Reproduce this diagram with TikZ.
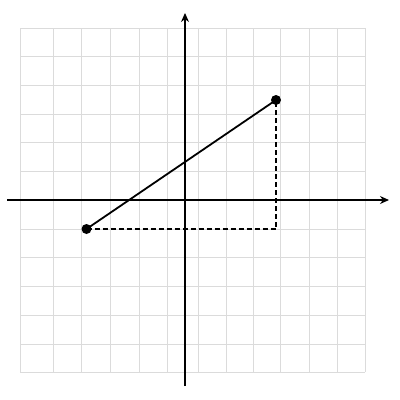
\documentclass[tikz,border=0pt]{standalone}
\usetikzlibrary{arrows.meta}
\begin{document}
\begin{tikzpicture}[x=1pt,y=-1pt,
  gridline/.style={draw=black!14,line width=0.9pt},
  axis/.style={draw=black,line width=1.3pt,-{Stealth[length=9pt,width=8pt]}},
  seg/.style={draw=black,line width=1.8pt},
  dashseg/.style={draw=black,line width=1.4pt,dash pattern=on 5pt off 3pt},
  dot/.style={circle,fill=black,inner sep=0pt,minimum size=10pt}]
\useasboundingbox (0,0) rectangle (400,400);
\foreach \gx in {20,53.3,81.7,110.7,139.3,167.7,198.3,226.7,253.3,280,309,337.7,365}
  \draw[gridline] (\gx,28.3) -- (\gx,372.3);
\foreach \gy in {28.3,56.3,85,114,142.7,171,200,229.3,257.7,286.7,315,344,372.3}
  \draw[gridline] (20,\gy) -- (365,\gy);
\coordinate (xs) at (7,200);
\coordinate (xe) at (389,200);
\coordinate (ys) at (185,386);
\coordinate (ye) at (185,13);
\draw[axis] (xs) -- (xe);
\draw[axis] (ys) -- (ye);
\node[dot] (A) at (86.5,229) {};
\node[dot] (B) at (276,100) {};
\coordinate (C) at (276,229);
\draw[dashseg] (A.center) -- (C) -- (B.center);
\draw[seg] (A.center) -- (B.center);
\end{tikzpicture}
\end{document}
